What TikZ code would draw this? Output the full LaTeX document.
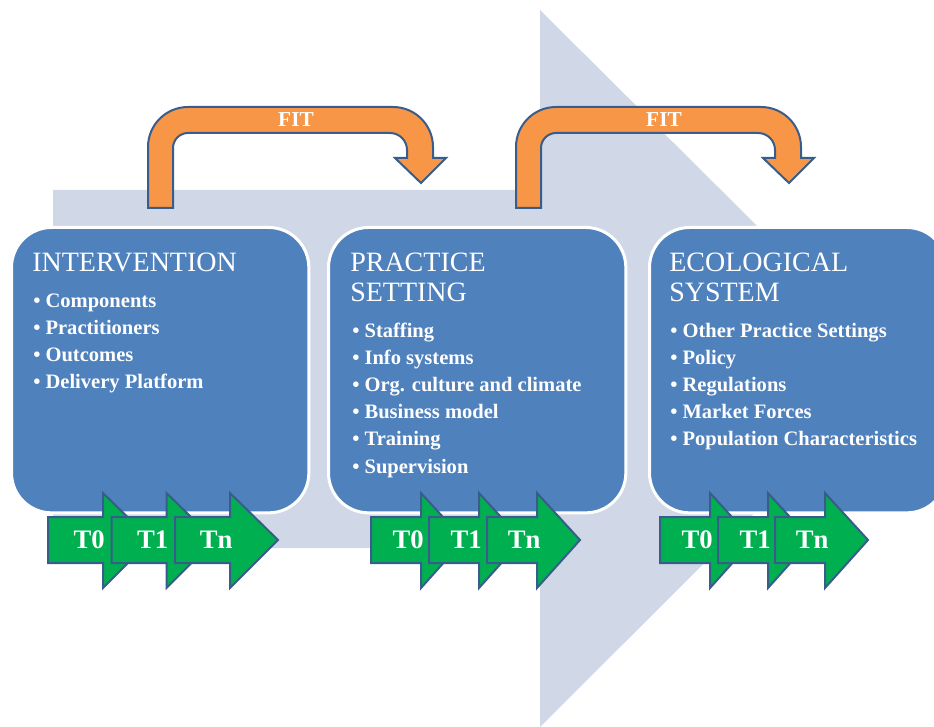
\documentclass[tikz,border=0pt]{standalone}
\usepackage{fontspec}
\setmainfont{Liberation Serif}

\definecolor{bgblue}{RGB}{208,216,232}
\definecolor{boxblue}{RGB}{79,129,189}
\definecolor{fitorange}{RGB}{247,150,70}
\definecolor{edgeblue}{RGB}{56,93,138}
\definecolor{timegreen}{RGB}{0,176,80}

\tikzset{
  bgarrow/.style={fill=bgblue},
  stagebox/.style={rectangle, rounded corners=30pt, fill=boxblue, draw=white,
    line width=2.25pt, minimum width=223pt, minimum height=214pt, anchor=north west},
  stagetitle/.style={text=white, inner sep=0pt, anchor=base west,
    font=\fontsize{21}{21.75}\selectfont},
  stagelist/.style={text=white, inner sep=0pt, anchor=base west,
    font=\bfseries\fontsize{15.4}{20.4}\selectfont},
  fitarrow/.style={fill=fitorange, draw=edgeblue, line width=1.5pt},
  fitlabel/.style={text=white, inner sep=0pt, font=\bfseries\fontsize{16}{16}\selectfont},
  timearrow/.style={fill=timegreen, draw=edgeblue, line width=1.5pt},
  timelabel/.style={text=white, inner sep=0pt, font=\bfseries\fontsize{20}{20}\selectfont}
}

\newcommand{\listdot}{\textbullet\ }
% lines stacked from the first baseline down
\newcommand{\stagelines}[1]{\begin{tabular}[t]{@{}l@{}}#1\end{tabular}}
% name, left x, shaft length, head length, label
\newcommand{\drawtimestep}[5]{%
  \draw[timearrow] (#2,517) -- ({#2+#3},517) -- ({#2+#3},493) -- ({#2+#3+#4},540)
    -- ({#2+#3},588) -- ({#2+#3},563) -- (#2,563) -- cycle;
  \node[timelabel] (#1) at ({#2+0.4*(#3+#4)},540) {#5};
}

\begin{document}
\begin{tikzpicture}[x=0.75pt, y=-0.75pt]
  \useasboundingbox (0,0) rectangle (934,727);
  % big arrow in the background
  \fill[bgarrow] (53,190) -- (540,190) -- (540,10) -- (900,368) -- (540,727)
    -- (540,548) -- (53,548) -- cycle;
  % fit arrows over the top
  \foreach \dx/\n in {0/1, 368/2} {
    \draw[fitarrow, shift={(\dx,0)}] (148,208) -- (148,147) arc (180:270:40)
      -- (393,107) arc (270:360:40) -- (433,158) -- (446,158) -- (421,183)
      -- (395,158) -- (407,158) -- (407,150) arc (0:-90:17)
      -- (188,133) arc (-90:-180:15) -- (173,208) -- cycle;
    \node[fitlabel] (fit\n) at ({296+\dx},120) {FIT};
  }
  % stage boxes
  \node[stagebox] (intervention) at (10,226) {};
  \node[stagebox] (practice) at (327,226) {};
  \node[stagebox] (ecological) at (648,226) {};
  % box texts
  \node[stagetitle] (intervention-title) at ([shift={(22,46)}]intervention.north west)
    {INTERVENTION};
  \node[stagelist] (intervention-list) at ([shift={(23,81)}]intervention.north west)
    {\stagelines{\listdot Components\\ \listdot Practitioners\\ \listdot Outcomes\\
     \listdot Delivery Platform}};
  \node[stagetitle] (practice-title) at ([shift={(23,46)}]practice.north west)
    {\stagelines{PRACTICE\\ SETTING}};
  \node[stagelist] (practice-list) at ([shift={(25,111)}]practice.north west)
    {\stagelines{\listdot Staffing\\ \listdot Info systems\\ \listdot Org. culture and climate\\
     \listdot Business model\\ \listdot Training\\ \listdot Supervision}};
  \node[stagetitle] (ecological-title) at ([shift={(21,46)}]ecological.north west)
    {\stagelines{ECOLOGICAL\\ SYSTEM}};
  \node[stagelist] (ecological-list) at ([shift={(22,111)}]ecological.north west)
    {\stagelines{\listdot Other Practice Settings\\ \listdot Policy\\ \listdot Regulations\\
     \listdot Market Forces\\ \listdot Population Characteristics}};
  % time steps under each box
  \foreach \x/\lab [count=\i] in {48/T0, 111.5/T1, 175/Tn}
    {\drawtimestep{int-t\i}{\x}{55}{48}{\lab}}
  \foreach \x/\lab [count=\i] in {371/T0, 429/T1, 487/Tn}
    {\drawtimestep{prac-t\i}{\x}{50}{43}{\lab}}
  \foreach \x/\lab [count=\i] in {660/T0, 718/T1, 775/Tn}
    {\drawtimestep{eco-t\i}{\x}{50}{43}{\lab}}
\end{tikzpicture}
\end{document}
